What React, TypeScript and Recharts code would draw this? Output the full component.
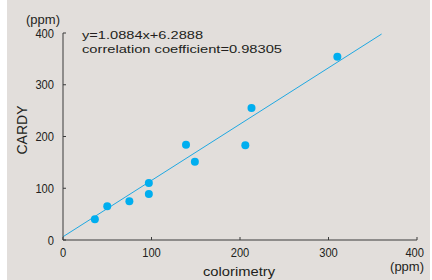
import { ScatterChart, Scatter, XAxis, YAxis, ReferenceLine } from 'recharts';

// colorimetry (ppm) vs CARDY (ppm)
const COLORIMETRY = [36, 50, 75, 97, 97, 139, 149, 206, 213, 310];
const CARDY = [40, 65, 75, 110, 89, 184, 151, 183, 255, 354];

const X_TICKS = [0, 100, 200, 300, 400];
const Y_TICKS = [0, 100, 200, 300, 400];

// fitted line end points
const FIT_X = [0, 360];
const FIT_Y = [6.3, 398];

const FONT = '"Liberation Sans", Arial, sans-serif';
const INK = '#231f20';
const AXIS = '#3a3a3a';
const DOT = '#00aeef';
const LINE = '#1fa8e2';

const data = COLORIMETRY.map((x, i) => ({ x, y: CARDY[i] }));

function XTick(props: any) {
  const { x, y, payload } = props;
  const last = payload.value === 400;
  const s = String(payload.value);
  return (
    <g>
      <line x1={x} x2={x} y1={y} y2={y - 3} stroke={AXIS} />
      <text
        x={last ? x + 7 : x}
        y={y + 17}
        textAnchor={last ? 'end' : 'middle'}
        fontSize={12.5}
        fontFamily={FONT}
        fill={INK}
        textLength={6.2 * s.length}
        lengthAdjust="spacingAndGlyphs"
      >
        {s}
      </text>
    </g>
  );
}

function YTick(props: any) {
  const { x, y, payload } = props;
  const s = String(payload.value);
  return (
    <g>
      <line x1={x} x2={x + 3} y1={y} y2={y} stroke={AXIS} />
      <text
        x={x - 9}
        y={y + 4.5}
        textAnchor="end"
        fontSize={12.5}
        fontFamily={FONT}
        fill={INK}
        textLength={6.2 * s.length}
        lengthAdjust="spacingAndGlyphs"
      >
        {s}
      </text>
    </g>
  );
}

export default function App() {
  return (
    <div
      style={{
        position: 'absolute',
        left: 0,
        top: 0,
        width: 432,
        height: 280,
        background: '#ffffff',
      }}
    >
      <div
        style={{
          position: 'absolute',
          left: 7,
          top: 0,
          width: 423,
          height: 280,
          background: '#e2dedb',
        }}
      />
      <div style={{ position: 'absolute', left: 0, top: 0 }}>
        <ScatterChart
          width={432}
          height={280}
          margin={{ top: 33, right: 15, bottom: 10, left: 3 }}
        >
          <XAxis
            type="number"
            dataKey="x"
            domain={[0, 400]}
            ticks={X_TICKS}
            height={30}
            tickSize={0}
            tickMargin={0}
            tick={<XTick />}
            tickLine={false}
            axisLine={{ stroke: AXIS }}
            allowDataOverflow
          />
          <YAxis
            type="number"
            dataKey="y"
            domain={[0, 400]}
            ticks={Y_TICKS}
            width={60}
            tickSize={0}
            tickMargin={0}
            tick={<YTick />}
            tickLine={false}
            axisLine={{ stroke: AXIS }}
            allowDataOverflow
          />
          <ReferenceLine
            segment={[
              { x: FIT_X[0], y: FIT_Y[0] },
              { x: FIT_X[1], y: FIT_Y[1] },
            ]}
            stroke={LINE}
            strokeWidth={1}
            ifOverflow="visible"
          />
          <Scatter
            data={data}
            isAnimationActive={false}
            shape={(p: any) => <circle cx={p.cx} cy={p.cy} r={4} fill={DOT} />}
          />
        </ScatterChart>
      </div>
      <svg
        width={432}
        height={280}
        style={{ position: 'absolute', left: 0, top: 0, pointerEvents: 'none' }}
      >
        <g fontFamily={FONT} fill={INK}>
          <text x={43} y={24} fontSize={13} textAnchor="middle">(ppm)</text>
          <text x={424} y={271} fontSize={13} textAnchor="end">(ppm)</text>
          <text
            x={239}
            y={276}
            fontSize={13.5}
            textAnchor="middle"
            textLength={72}
            lengthAdjust="spacingAndGlyphs"
          >
            colorimetry
          </text>
          <text
            x={0}
            y={0}
            fontSize={14}
            textAnchor="middle"
            transform="translate(27 130) rotate(-90)"
          >
            CARDY
          </text>
          <text x={82} y={39} fontSize={11.5} textLength={121} lengthAdjust="spacingAndGlyphs">
            y=1.0884x+6.2888
          </text>
          <text x={82} y={53} fontSize={11.5} textLength={200} lengthAdjust="spacingAndGlyphs">
            correlation coefficient=0.98305
          </text>
        </g>
      </svg>
    </div>
  );
}
